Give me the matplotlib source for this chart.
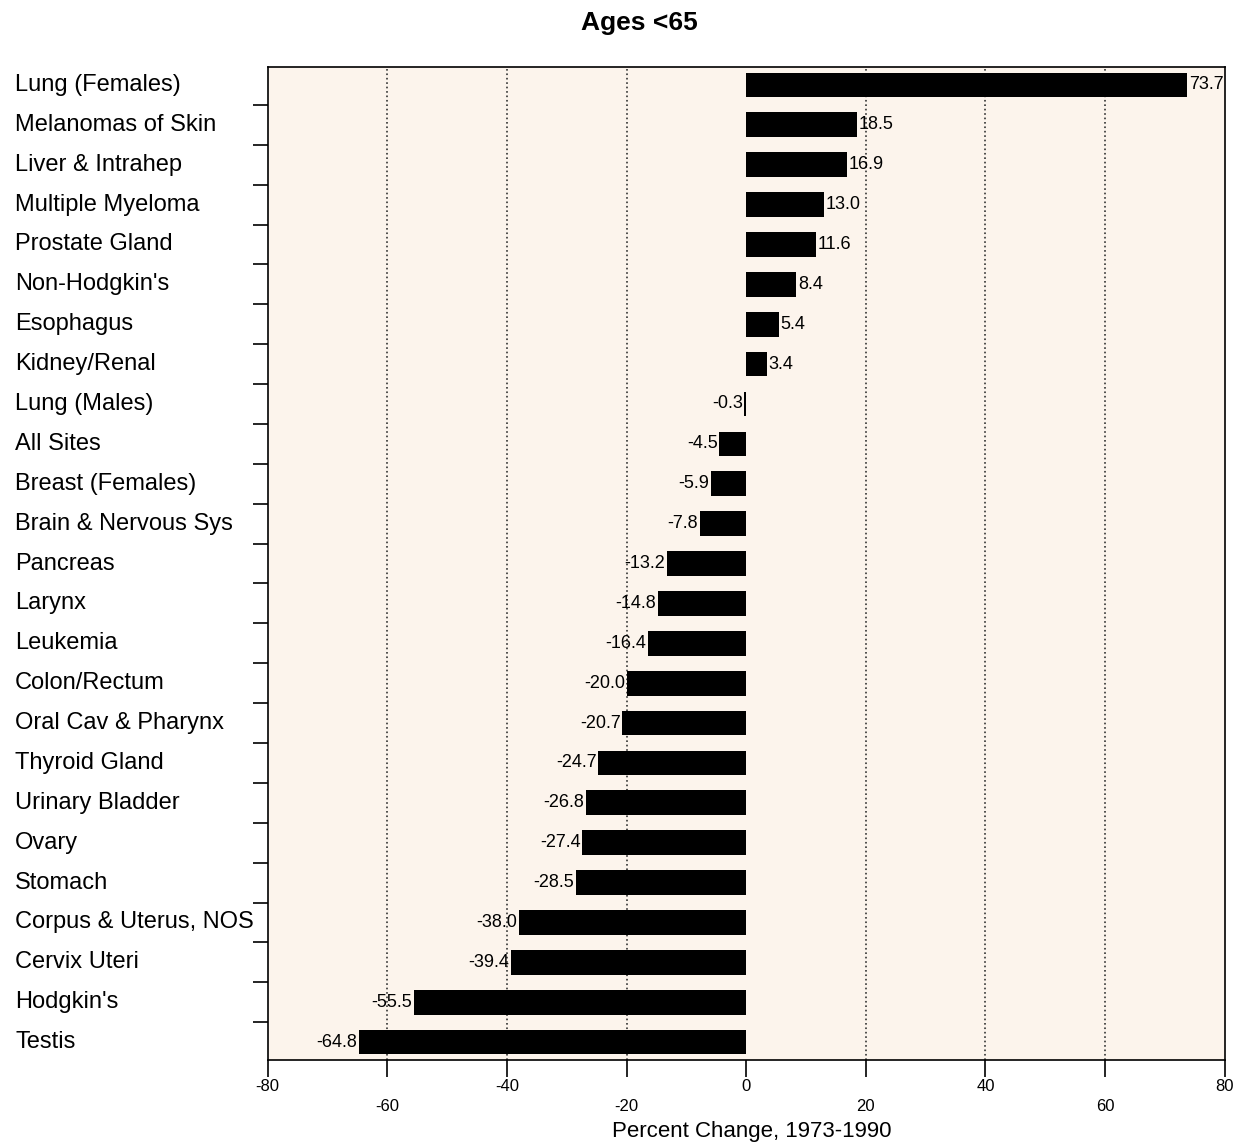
import matplotlib.pyplot as plt
from matplotlib.ticker import FixedLocator
from matplotlib import transforms

plt.rcParams['font.family'] = ['Liberation Sans', 'DejaVu Sans']

# categories, top to bottom
sites = ['Lung (Females)', 'Melanomas of Skin', 'Liver & Intrahep', 'Multiple Myeloma',
         'Prostate Gland', "Non-Hodgkin's", 'Esophagus', 'Kidney/Renal', 'Lung (Males)',
         'All Sites', 'Breast (Females)', 'Brain & Nervous Sys', 'Pancreas', 'Larynx',
         'Leukemia', 'Colon/Rectum', 'Oral Cav & Pharynx', 'Thyroid Gland',
         'Urinary Bladder', 'Ovary', 'Stomach', 'Corpus & Uterus, NOS', 'Cervix Uteri',
         "Hodgkin's", 'Testis']
pct_change = [73.7, 18.5, 16.9, 13.0, 11.6, 8.4, 5.4, 3.4, -0.3, -4.5, -5.9, -7.8, -13.2,
              -14.8, -16.4, -20.0, -20.7, -24.7, -26.8, -27.4, -28.5, -38.0, -39.4,
              -55.5, -64.8]
ticks_upper = [-80, -40, 0, 40, 80]
ticks_lower = [-60, -20, 20, 60]

fig = plt.figure(figsize=(12.51, 11.45), dpi=100)
ax = fig.add_axes([0.214, 0.0742, 0.765, 0.8673])
ax.set_facecolor('#fcf4ec')

ypos = list(range(len(sites)))
ax.barh(ypos, pct_change, height=0.62, color='black', zorder=3)

# value labels
for y, v in zip(ypos, pct_change):
    if v >= 0:
        ax.text(v + 0.3, y, f'{v:.1f}', ha='left', va='center', fontsize=13, zorder=4)
    else:
        ax.text(v - 0.3, y, f'{v:.1f}', ha='right', va='center', fontsize=13, zorder=4)

ax.set_xlim(-80, 80)
ax.set_ylim(len(sites) - 0.55, -0.45)

# staggered x tick labels
ax.xaxis.set_major_locator(FixedLocator(ticks_upper))
ax.xaxis.set_minor_locator(FixedLocator(ticks_lower))
ax.set_xticklabels([str(t) for t in ticks_upper])
ax.set_xticklabels([str(t) for t in ticks_lower], minor=True)
ax.tick_params(axis='x', which='major', length=12, width=1.2, pad=2, labelsize=12)
ax.tick_params(axis='x', which='minor', length=12, width=1.2, pad=16, labelsize=12)

for g in [-60, -40, -20, 20, 40, 60]:
    ax.axvline(g, color='#333333', linestyle=':', linewidth=1.2, zorder=1)

# category labels at far left, ticks between categories
ax.set_yticks(ypos)
ax.set_yticklabels([])
ax.tick_params(axis='y', which='major', length=0)
ax.yaxis.set_minor_locator(FixedLocator([i + 0.5 for i in range(len(sites) - 1)]))
ax.tick_params(axis='y', which='minor', length=11, width=1.2)
lab_tr = transforms.blended_transform_factory(fig.transFigure, ax.transData)
for y, name in zip(ypos, sites):
    ax.text(0.012, y, name, transform=lab_tr, ha='left', va='center', fontsize=17,
            clip_on=False)

for s in ax.spines.values():
    s.set_linewidth(1.2)

fig.text(0.601, 0.0122, 'Percent Change, 1973-1990', ha='center', va='center', fontsize=16)
fig.text(0.511, 0.98, 'Ages <65', ha='center', va='center', fontsize=19, fontweight='bold')

plt.savefig('out.png', dpi=100)
